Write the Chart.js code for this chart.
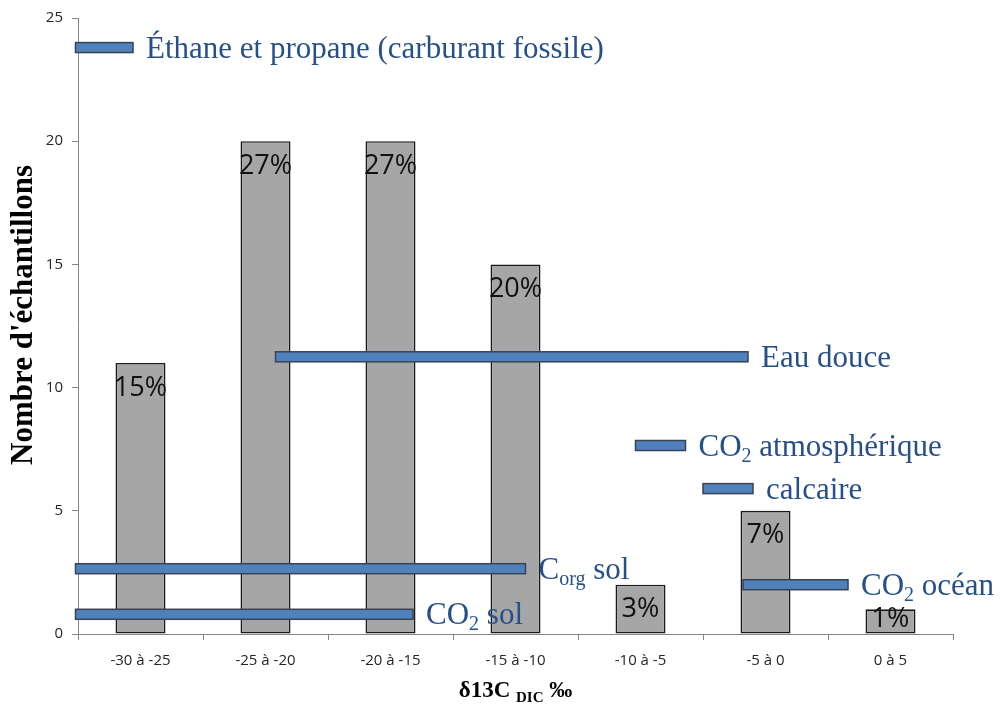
<!DOCTYPE html>
<html lang="fr">
<head>
<meta charset="utf-8">
<title>δ13C DIC</title>
<script src="https://cdn.jsdelivr.net/npm/chart.js@4.4.1/dist/chart.umd.min.js"></script>
<style>
  html, body { margin: 0; padding: 0; background: #fff; }
</style>
</head>
<body>
<canvas id="myChart" width="1002" height="704"></canvas>
<script>
'use strict'

// histogram of samples per δ13C class
const classes = ['-30 à -25', '-25 à -20', '-20 à -15', '-15 à -10', '-10 à -5', '-5 à 0', '0 à 5']
const counts = [11, 20, 20, 15, 2, 5, 1]
const shares = ['15%', '27%', '27%', '20%', '3%', '7%', '1%']
const classStart = -30
const classWidth = 5

// typical δ13C ranges of the carbon sources ({...} = subscript)
const sourceNames = [
  'Éthane et propane (carburant fossile)',
  'Eau douce',
  'CO{2} atmosphérique',
  'calcaire',
  'CO{2} océan',
  'C{org} sol',
  'CO{2} sol'
]
const sourceFrom = [-30.1, -22.1, -7.7, -5.0, -3.4, -30.1, -30.1]
const sourceTo = [-27.8, -3.2, -5.7, -3.0, 0.8, -12.1, -16.6]
const sourceLevel = [23.8, 11.25, 7.65, 5.9, 2.0, 2.65, 0.8]

const SERIF = '"Liberation Serif", "Times New Roman", serif'
const SANS = '"Open Sans", Calibri, sans-serif'

// text with {sub} parts drawn smaller and lowered
function drawRich(ctx, text, x, baseline, size, weight) {
  const parts = text.split(/(\{[^}]*\})/).filter(p => p.length)
  ctx.textAlign = 'left'
  ctx.textBaseline = 'alphabetic'
  for (const p of parts) {
    const sub = p.startsWith('{')
    const t = sub ? p.slice(1, -1) : p
    const s = sub ? Math.round(size * 0.65) : size
    ctx.font = `${weight} ${s}px ${SERIF}`
    ctx.fillText(t, x, baseline + (sub ? size * 0.2 : 0))
    x += ctx.measureText(t).width
  }
}

function richWidth(ctx, text, size, weight) {
  let w = 0
  for (const p of text.split(/(\{[^}]*\})/).filter(p => p.length)) {
    const sub = p.startsWith('{')
    const t = sub ? p.slice(1, -1) : p
    ctx.font = `${weight} ${sub ? Math.round(size * 0.65) : size}px ${SERIF}`
    w += ctx.measureText(t).width
  }
  return w
}

// ‰ value -> pixel on the category axis (class i is centred on index i)
function permilToPixel(xScale, v) {
  return xScale.getPixelForValue((v - classStart) / classWidth - 0.5)
}

const overlay = {
  id: 'overlay',
  afterDatasetsDraw(chart) {
    const { ctx, scales: { x, y } } = chart
    const bars = chart.getDatasetMeta(0).data
    ctx.save()

    // percentage inside each column
    ctx.font = `27px ${SANS}`
    ctx.fillStyle = '#111'
    ctx.textAlign = 'center'
    ctx.textBaseline = 'middle'
    bars.forEach((bar, i) => {
      const cy = Math.min(bar.y + 25, bar.base - 14)
      ctx.fillText(shares[i], bar.x, cy)
    })

    // source ranges
    sourceNames.forEach((name, i) => {
      const x0 = permilToPixel(x, sourceFrom[i])
      const x1 = permilToPixel(x, sourceTo[i])
      const yc = y.getPixelForValue(sourceLevel[i])
      ctx.fillStyle = '#4f81bd'
      ctx.fillRect(x0, yc - 5, x1 - x0, 10)
      ctx.strokeStyle = '#3a4350'
      ctx.lineWidth = 1.5
      ctx.strokeRect(x0, yc - 5, x1 - x0, 10)
      ctx.fillStyle = '#27508a'
      drawRich(ctx, name, x1 + 13, yc + 10, 31, 'normal')
    })
    ctx.restore()
  },
  afterDraw(chart) {
    const { ctx, chartArea } = chart
    ctx.save()
    ctx.fillStyle = '#000'

    // y title
    ctx.translate(24, 315)
    ctx.rotate(-Math.PI / 2)
    ctx.font = `bold 31px ${SERIF}`
    ctx.textAlign = 'center'
    ctx.textBaseline = 'middle'
    ctx.fillText("Nombre d'échantillons", 0, 0)
    ctx.setTransform(1, 0, 0, 1, 0, 0)

    // x title
    const xt = 'δ13C {DIC} ‰'
    const w = richWidth(ctx, xt, 23, 'bold')
    const cx = (chartArea.left + chartArea.right) / 2
    drawRich(ctx, xt, cx - w / 2, 697, 23, 'bold')
    ctx.restore()
  }
}

new Chart(document.getElementById('myChart'), {
  type: 'bar',
  data: {
    labels: classes,
    datasets: [{
      data: counts,
      backgroundColor: '#a6a6a6',
      borderColor: '#1a1a1a',
      borderWidth: 1.6,
      borderSkipped: false,
      barPercentage: 0.4,
      categoryPercentage: 1
    }]
  },
  options: {
    responsive: false,
    animation: false,
    layout: { padding: { left: 0, top: 18, right: 49, bottom: 0 } },
    plugins: {
      legend: { display: false },
      tooltip: { enabled: false }
    },
    scales: {
      x: {
        afterFit: (scale) => { scale.height = 70 },
        grid: { drawOnChartArea: false, tickLength: 6, color: '#868686' },
        border: { color: '#868686' },
        ticks: { color: '#262626', padding: 12, font: { family: SANS, size: 15 } }
      },
      y: {
        min: 0,
        max: 25,
        afterFit: (scale) => { scale.width = 78 },
        grid: { drawOnChartArea: false, tickLength: 6, color: '#868686' },
        border: { color: '#868686' },
        ticks: { stepSize: 5, color: '#262626', padding: 9, font: { family: SANS, size: 15 } }
      }
    }
  },
  plugins: [overlay]
})
</script>
</body>
</html>
